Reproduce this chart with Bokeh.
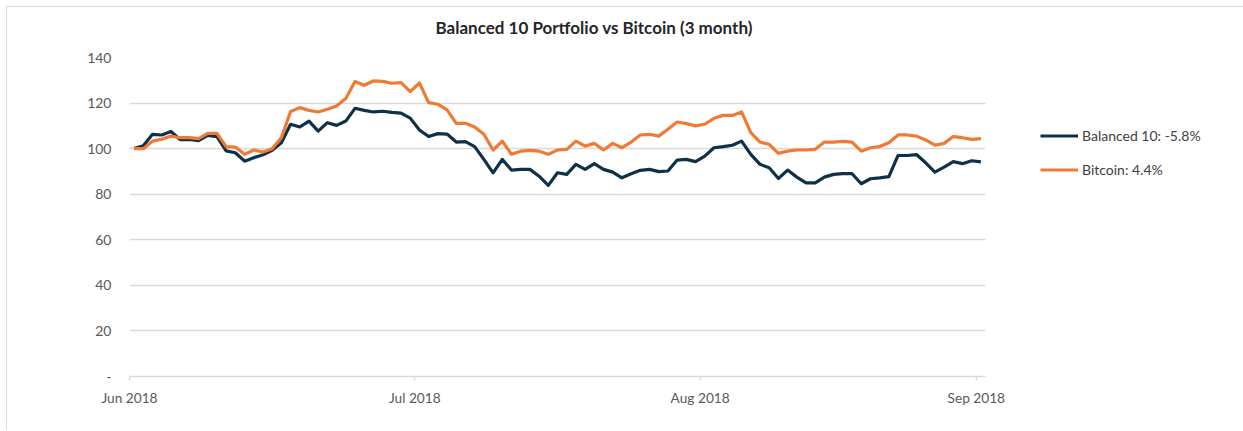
import pandas as pd
from datetime import datetime
from bokeh.plotting import figure
from bokeh.models import (FixedTicker, DatetimeTickFormatter, Legend, LegendItem,
                          Title, Range1d, ColumnDataSource)
from bokeh.embed import file_html
from bokeh.resources import INLINE

# ---------------- data ----------------
title_text = "Balanced 10 Portfolio vs Bitcoin (3 month)"
series_names = ["Balanced 10: -5.8%", "Bitcoin: 4.4%"]
start_date = "2018-06-01"

balanced = [
    100, 101.3, 106.3, 106, 107.5, 104, 104, 103.5, 105.8, 105.3,
    99, 98.2, 94.5, 96, 97.3, 99.3, 102.6, 110.7, 109.5, 112.1,
    107.7, 111.4, 110.2, 112.1, 117.7, 116.8, 116.1, 116.4, 115.9, 115.6,
    113.4, 108.2, 105.3, 106.6, 106.4, 102.9, 103.1, 100.9, 95.3, 89.4,
    95.3, 90.6, 90.9, 90.9, 87.9, 83.9, 89.4, 88.7, 93.1, 90.9,
    93.4, 90.9, 89.7, 87.2, 89, 90.5, 90.9, 89.9, 90.2, 95,
    95.3, 94.3, 96.7, 100.4, 100.9, 101.5, 103.3, 97.5, 93.1, 91.6,
    86.9, 90.6, 87.5, 85, 85, 87.5, 88.7, 89, 89, 84.6,
    86.8, 87.2, 87.7, 97, 97, 97.4, 93.8, 89.7, 91.9, 94.3,
    93.4, 94.7, 94.2,
]
bitcoin = [
    100, 100, 103.3, 104.1, 105.5, 104.8, 104.8, 104.4, 106.7, 106.7,
    100.9, 100.7, 97.5, 99.4, 98.5, 100, 104.8, 116.3, 118, 116.8,
    116.1, 117.3, 118.7, 122, 129.5, 127.8, 129.7, 129.5, 128.7, 129,
    125, 128.8, 120.2, 119.5, 117, 111.1, 111.1, 109.5, 106.3, 99.4,
    103.3, 97.5, 98.9, 99.2, 98.9, 97.5, 99.4, 99.7, 103.3, 101.1,
    102.3, 99.4, 102.3, 100.4, 102.9, 106, 106.3, 105.5, 108.5, 111.7,
    111, 110, 110.7, 113.3, 114.6, 114.6, 116.1, 107, 102.9, 101.9,
    97.9, 98.9, 99.4, 99.4, 99.7, 102.9, 102.9, 103.2, 102.9, 98.9,
    100.4, 100.9, 102.6, 106, 106, 105.5, 103.8, 101.5, 102.3, 105.3,
    104.8, 104.1, 104.4,
]
# month tick positions as they sit on the reference's axis
tick_dates = ["2018-06-01", "2018-07-02", "2018-08-02", "2018-09-01"]
y_ticks = [0, 20, 40, 60, 80, 100, 120, 140]

# points sit in the middle of each day's slot (date axis, between tick marks)
dates = pd.date_range(start_date, periods=len(balanced), freq="D") + pd.Timedelta(hours=12)
source = ColumnDataSource(dict(date=dates, balanced=balanced, bitcoin=bitcoin))

FONT = "Lato"
NAVY = "#0f3148"
ORANGE = "#f07a34"
GRID = "#d9d9d9"

p = figure(frame_width=856, frame_height=319, x_axis_type="datetime",
           x_range=Range1d(datetime(2018, 6, 1), datetime(2018, 9, 2)),
           y_range=Range1d(0, 140),
           output_backend="svg", toolbar_location=None,
           min_border_left=122, min_border_right=256,
           min_border_top=50, min_border_bottom=54,
           styles={"margin-left": "6px", "margin-top": "6px",
                   "border-left": "1px solid #d9d9d9",
                   "border-top": "1px solid #d9d9d9",
                   "border-right": "1px solid #d9d9d9"})
p.outline_line_color = None
p.background_fill_color = "white"
p.border_fill_color = "white"

r1 = p.line("date", "balanced", source=source, line_color=NAVY, line_width=3.2,
            line_join="round")
r2 = p.line("date", "bitcoin", source=source, line_color=ORANGE, line_width=3.2,
            line_join="round")

# grid
p.xgrid.visible = False
p.ygrid.grid_line_color = GRID
p.ygrid.grid_line_width = 1.5
p.ygrid.ticker = FixedTicker(ticks=y_ticks)

# y axis
yax = p.yaxis[0]
yax.ticker = FixedTicker(ticks=y_ticks)
yax.major_label_overrides = {0: "-"}
yax.axis_line_color = None
yax.major_tick_line_color = None
yax.minor_tick_line_color = None
yax.major_tick_out = 0
yax.major_tick_in = 0
yax.major_label_standoff = 18
yax.major_label_text_font = FONT
yax.major_label_text_font_size = "14px"
yax.major_label_text_color = "#595959"

# x axis
xax = p.xaxis[0]
xax.ticker = FixedTicker(ticks=[pd.Timestamp(d).value // 10**6 for d in tick_dates])
fmt = "%b %Y"
xax.formatter = DatetimeTickFormatter(days=fmt, months=fmt, years=fmt, hours=fmt,
                                      minutes=fmt, seconds=fmt, milliseconds=fmt)
xax.axis_line_color = GRID
xax.axis_line_width = 1.5
xax.major_tick_line_color = GRID
xax.major_tick_line_width = 1.5
xax.major_tick_out = 4
xax.major_tick_in = 0
xax.minor_tick_line_color = None
xax.major_label_standoff = 8
xax.major_label_text_font = FONT
xax.major_label_text_font_size = "13.7px"
xax.major_label_text_color = "#595959"

# spacer between the frame and the title, then the title itself
spacer = Title(text=" ", text_font_size="1px", standoff=16)
p.add_layout(spacer, "above")
title = Title(text=title_text, align="left", offset=306, standoff=2,
              text_font=FONT, text_font_size="17px", text_font_style="bold",
              text_color="#262626")
p.add_layout(title, "above")

# legend (placed to the right of the frame)
legend = Legend(items=[LegendItem(label=series_names[0], renderers=[r1]),
                       LegendItem(label=series_names[1], renderers=[r2])],
                location=(55, 196), glyph_width=38, glyph_height=21,
                label_height=21, spacing=13, label_standoff=4,
                padding=0, margin=0, border_line_color=None,
                background_fill_alpha=0,
                label_text_font=FONT, label_text_font_size="14px",
                label_text_color="#404040")
p.add_layout(legend, "right")

open("out.html", "w").write(file_html(p, INLINE))
